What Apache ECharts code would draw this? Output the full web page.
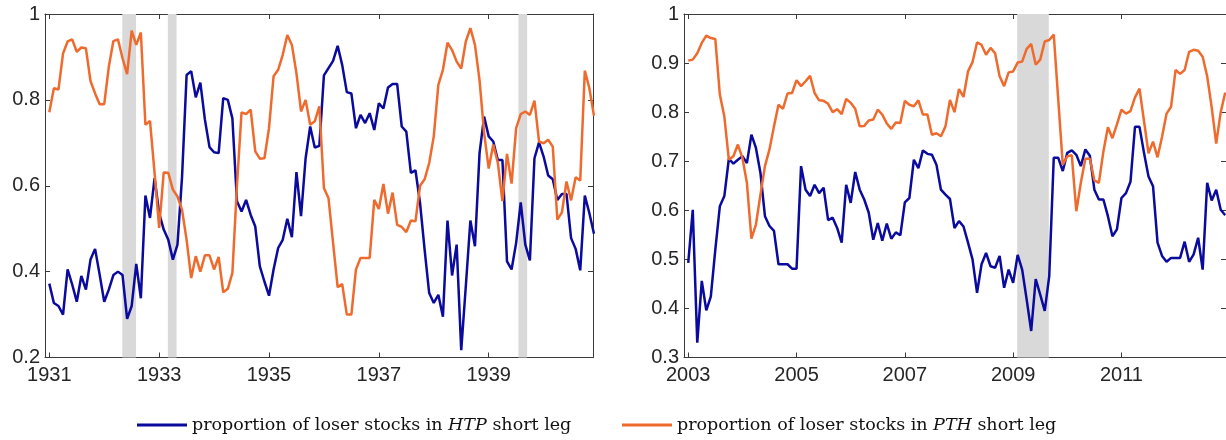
<!DOCTYPE html>
<html>
<head>
<meta charset="utf-8">
<script src="https://cdn.jsdelivr.net/npm/echarts@6/dist/echarts.min.js"></script>
<style>
  html, body { margin: 0; padding: 0; background: #fff; }
  #chart { width: 1226px; height: 440px; }
</style>
</head>
<body>
<div id="chart"></div>
<script>
// monthly values, Jan 1931 .. Dec 1940
const htp1930s = [
  0.372, 0.327, 0.32, 0.30, 0.405, 0.37, 0.33, 0.39, 0.358, 0.428,
  0.453, 0.393, 0.33, 0.358, 0.392, 0.40, 0.392, 0.29, 0.32, 0.418,
  0.338, 0.577, 0.525, 0.618, 0.536, 0.498, 0.474, 0.428, 0.463, 0.62,
  0.858, 0.867, 0.806, 0.84, 0.754, 0.69, 0.678, 0.676, 0.804, 0.80,
  0.757, 0.564, 0.54, 0.567, 0.532, 0.505, 0.412, 0.377, 0.344, 0.405,
  0.455, 0.474, 0.523, 0.48, 0.632, 0.529, 0.664, 0.738, 0.689, 0.693,
  0.857, 0.874, 0.891, 0.926, 0.881, 0.818, 0.815, 0.734, 0.765, 0.746,
  0.769, 0.73, 0.792, 0.78, 0.829, 0.837, 0.837, 0.738, 0.726, 0.63,
  0.636, 0.56, 0.451, 0.35, 0.327, 0.346, 0.295, 0.519, 0.391, 0.463,
  0.217, 0.366, 0.519, 0.459, 0.676, 0.761, 0.715, 0.703, 0.66, 0.66,
  0.424, 0.405, 0.467, 0.561, 0.463, 0.426, 0.664, 0.701, 0.668, 0.624,
  0.615, 0.567, 0.581, 0.581, 0.478, 0.453, 0.403, 0.577, 0.536, 0.488
];
const pth1930s = [
  0.771, 0.827, 0.824, 0.908, 0.936, 0.941, 0.912, 0.922, 0.920, 0.844,
  0.815, 0.79, 0.79, 0.877, 0.937, 0.941, 0.897, 0.86, 0.961, 0.928,
  0.957, 0.742, 0.751, 0.63, 0.502, 0.631, 0.63, 0.591, 0.575, 0.544,
  0.474, 0.385, 0.436, 0.40, 0.438, 0.438, 0.405, 0.434, 0.352, 0.36,
  0.397, 0.6, 0.771, 0.767, 0.777, 0.68, 0.663, 0.664, 0.734, 0.855,
  0.87, 0.905, 0.951, 0.928, 0.862, 0.773, 0.8, 0.742, 0.75, 0.785,
  0.595, 0.571, 0.467, 0.364, 0.371, 0.30, 0.30, 0.405, 0.432, 0.432,
  0.432, 0.567, 0.546, 0.604, 0.535, 0.584, 0.509, 0.504, 0.492, 0.519,
  0.517, 0.60, 0.615, 0.653, 0.715, 0.835, 0.87, 0.933, 0.916, 0.889,
  0.873, 0.936, 0.967, 0.928, 0.846, 0.723, 0.64, 0.696, 0.653, 0.564,
  0.674, 0.605, 0.734, 0.767, 0.773, 0.765, 0.798, 0.703, 0.699, 0.707,
  0.691, 0.521, 0.538, 0.61, 0.566, 0.62, 0.612, 0.868, 0.827, 0.763
];
// monthly values, Jan 2003 .. Dec 2012
const htp2000s = [
  0.493, 0.601, 0.33, 0.456, 0.396, 0.424, 0.52, 0.608, 0.629, 0.705,
  0.695, 0.703, 0.71, 0.696, 0.754, 0.727, 0.676, 0.588, 0.568, 0.558,
  0.49, 0.49, 0.49, 0.481, 0.481, 0.69, 0.642, 0.629, 0.652, 0.635,
  0.646, 0.58, 0.585, 0.564, 0.534, 0.652, 0.615, 0.678, 0.642, 0.622,
  0.595, 0.54, 0.574, 0.538, 0.573, 0.542, 0.555, 0.549, 0.616, 0.625,
  0.703, 0.686, 0.722, 0.715, 0.713, 0.693, 0.642, 0.632, 0.623, 0.564,
  0.578, 0.567, 0.534, 0.5, 0.432, 0.49, 0.513, 0.486, 0.483, 0.507,
  0.442, 0.479, 0.452, 0.509, 0.479, 0.418, 0.354, 0.46, 0.428, 0.395,
  0.466, 0.707, 0.707, 0.68, 0.717, 0.722, 0.713, 0.69, 0.724, 0.711,
  0.642, 0.622, 0.622, 0.588, 0.547, 0.561, 0.625, 0.635, 0.658, 0.77,
  0.77, 0.717, 0.669, 0.649, 0.534, 0.507, 0.495, 0.503, 0.503, 0.503,
  0.536, 0.495, 0.51, 0.544, 0.479, 0.656, 0.62, 0.642, 0.601, 0.59
];
const pth2000s = [
  0.905, 0.907, 0.92, 0.941, 0.956, 0.951, 0.949, 0.836, 0.791, 0.703,
  0.71, 0.734, 0.707, 0.656, 0.542, 0.571, 0.632, 0.69, 0.724, 0.771,
  0.815, 0.807, 0.838, 0.839, 0.865, 0.853, 0.863, 0.874, 0.839, 0.824,
  0.823, 0.817, 0.8, 0.806, 0.796, 0.827, 0.819, 0.807, 0.771, 0.772,
  0.783, 0.785, 0.805, 0.795, 0.777, 0.766, 0.779, 0.778, 0.823, 0.815,
  0.812, 0.824, 0.795, 0.795, 0.754, 0.757, 0.751, 0.771, 0.825, 0.8,
  0.847, 0.831, 0.883, 0.902, 0.942, 0.937, 0.917, 0.931, 0.92, 0.873,
  0.853, 0.881, 0.883, 0.901, 0.903, 0.929, 0.939, 0.897, 0.907, 0.944,
  0.947, 0.958, 0.825, 0.693, 0.71, 0.712, 0.598, 0.656, 0.705, 0.705,
  0.661, 0.656, 0.72, 0.769, 0.747, 0.775, 0.805, 0.797, 0.802, 0.83,
  0.848, 0.782, 0.716, 0.74, 0.708, 0.75, 0.797, 0.811, 0.886, 0.878,
  0.886, 0.923, 0.927, 0.925, 0.913, 0.873, 0.81, 0.736, 0.80, 0.84
];
// shaded periods, in months from the first January of each panel
const bands1930s = [[15.95, 18.95], [25.9, 27.8], [102.5, 104.4]];
const bands2000s = [[72.9, 79.9]];
const yearTicks = [0, 24, 48, 72, 96];

const BLUE = '#0a0a9e';
const ORANGE = '#ee6b2d';
const AXIS = '#3a3a3a';
const LABEL = '#262626';

const chart = echarts.init(document.getElementById('chart'));

const toPts = arr => arr.map((v, i) => [i, v]);

function xAxes(grid, min, max, startYear) {
  const base = {
    gridIndex: grid, type: 'value', min: min, max: max,
    splitLine: { show: false },
    axisLine: { onZero: false, lineStyle: { color: AXIS, width: 1 } },
    axisTick: { inside: true, length: 5, customValues: yearTicks, lineStyle: { color: AXIS } }
  };
  return [
    Object.assign({}, base, {
      position: 'bottom',
      axisLabel: {
        customValues: yearTicks, margin: 8, color: LABEL,
        fontFamily: 'Liberation Sans', fontSize: 20,
        formatter: v => String(startYear + v / 12)
      }
    }),
    Object.assign({}, base, { position: 'top', axisLabel: { show: false } })
  ];
}

function yAxes(grid, min, interval) {
  const base = {
    gridIndex: grid, type: 'value', min: min, max: 1, interval: interval,
    splitLine: { show: false },
    axisLine: { onZero: false, lineStyle: { color: AXIS, width: 1 } },
    axisTick: { inside: true, length: 5, lineStyle: { color: AXIS } }
  };
  return [
    Object.assign({}, base, {
      position: 'left',
      axisLabel: {
        margin: 5, color: LABEL, fontFamily: 'Liberation Sans', fontSize: 20,
        formatter: v => String(+v.toFixed(1))
      }
    }),
    Object.assign({}, base, { position: 'right', axisLabel: { show: false } })
  ];
}

function bandSeries(xi, yi, bands) {
  return {
    type: 'line', xAxisIndex: xi, yAxisIndex: yi, data: [], silent: true,
    markArea: {
      silent: true,
      itemStyle: { color: '#d9d9d9' },
      data: bands.map(b => [{ xAxis: b[0] }, { xAxis: b[1] }])
    }
  };
}

function lineSeries(name, xi, yi, vals, color) {
  return {
    name: name, type: 'line', xAxisIndex: xi, yAxisIndex: yi,
    data: toPts(vals), symbol: 'none', color: color,
    itemStyle: { color: color },
    lineStyle: { color: color, width: 2.5 }
  };
}

const legendText = {
  color: '#111',
  rich: {
    r: { fontFamily: 'DejaVu Serif', fontSize: 17.5, color: '#111' },
    i: { fontFamily: 'DejaVu Serif', fontSize: 17.5, fontStyle: 'italic', color: '#111' }
  }
};
const legendName = {
  htp: 'HTP',
  pth: 'PTH'
};
const legendLabel = n => '{r|proportion of loser stocks in }{i|' + legendName[n] + '}{r| short leg}';

chart.setOption({
  animation: false,
  backgroundColor: '#fff',
  grid: [
    { left: 45, top: 14, width: 548, height: 343.5 },
    { left: 684, top: 14, width: 548, height: 343.5 }
  ],
  xAxis: [].concat(xAxes(0, -0.94, 118.79, 1931), xAxes(1, -0.94, 119.17, 2003)),
  yAxis: [].concat(yAxes(0, 0.2, 0.2), yAxes(1, 0.3, 0.1)),
  legend: [
    {
      left: 137, top: 416, padding: 0, data: ['htp'], icon: 'rect',
      itemWidth: 50, itemHeight: 3, itemGap: 0,
      textStyle: legendText, formatter: legendLabel
    },
    {
      left: 622, top: 416, padding: 0, data: ['pth'], icon: 'rect',
      itemWidth: 50, itemHeight: 3, itemGap: 0,
      textStyle: legendText, formatter: legendLabel
    }
  ],
  series: [
    bandSeries(0, 0, bands1930s),
    lineSeries('htp', 0, 0, htp1930s, BLUE),
    lineSeries('pth', 0, 0, pth1930s, ORANGE),
    bandSeries(2, 2, bands2000s),
    lineSeries('htp', 2, 2, htp2000s, BLUE),
    lineSeries('pth', 2, 2, pth2000s, ORANGE)
  ]
});
</script>
</body>
</html>
